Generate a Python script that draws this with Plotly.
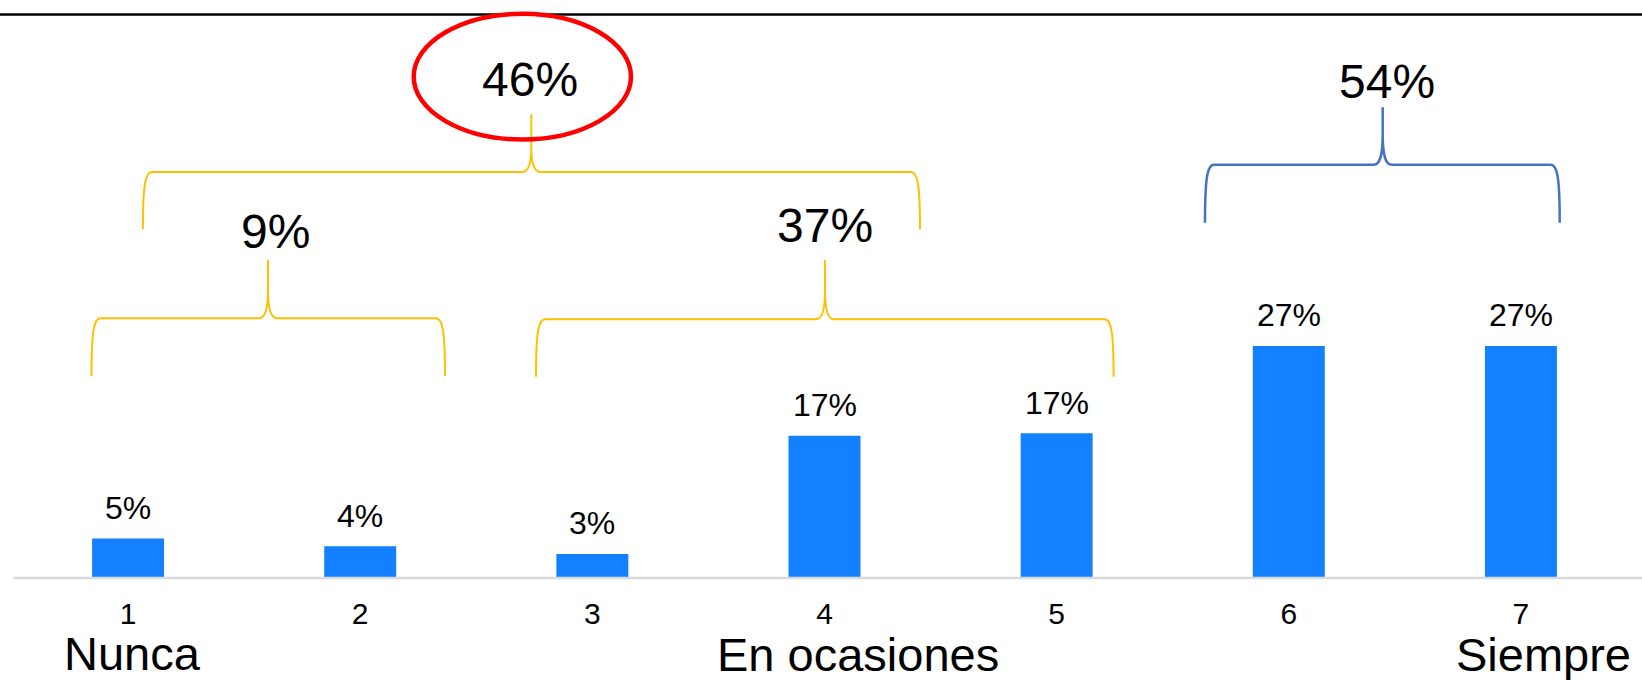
import plotly.graph_objects as go

# ---------------- data ----------------
categories = [1, 2, 3, 4, 5, 6, 7]
tick_labels = ["1", "2", "3", "4", "5", "6", "7"]
values = [4.5, 3.6, 2.7, 16.5, 16.8, 27.0, 27.0]
value_labels = ["5%", "4%", "3%", "17%", "17%", "27%", "27%"]
scale_labels = ["Nunca", "En ocasiones", "Siempre"]
group_labels = ["9%", "37%", "46%", "54%"]

# ---------------- layout geometry ----------------
W, H = 1642, 680
L, R, T, B = 12, 5, 0, 103
PW = W - L - R
PH = H - T - B
FONT = "Liberation Sans, Arial, sans-serif"
YELLOW = "#FFC000"
BLUE = "#4472C4"


def px(xp):
    return (xp - L) / PW


def py(yp):
    return (PH + T - yp) / PH


def pt(xp, yp):
    return f"{px(xp):.5f},{py(yp):.5f}"


def brace_path(xl, xr, xt, yb, yh, ytop, tipdy):
    c = 9
    p = []
    p.append(f"M {pt(xl, yb)}")
    p.append(f"C {pt(xl, yh + 15)} {pt(xl + 2, yh)} {pt(xl + c, yh)}")
    p.append(f"L {pt(xt - c, yh)}")
    p.append(f"C {pt(xt - 3, yh)} {pt(xt, yh - 8)} {pt(xt, yh - tipdy)}")
    p.append(f"L {pt(xt, ytop)}")
    p.append(f"M {pt(xt, ytop)}")
    p.append(f"L {pt(xt, yh - tipdy)}")
    p.append(f"C {pt(xt, yh - 8)} {pt(xt + 3, yh)} {pt(xt + c, yh)}")
    p.append(f"L {pt(xr - c, yh)}")
    p.append(f"C {pt(xr - 2, yh)} {pt(xr, yh + 15)} {pt(xr, yb)}")
    return " ".join(p)


fig = go.Figure()
fig.add_trace(go.Bar(
    x=categories, y=values, width=0.31,
    marker=dict(color="#1380FF", line=dict(width=0)),
    hoverinfo="skip", showlegend=False,
))

shapes = []
# top black rule
shapes.append(dict(type="line", xref="paper", yref="paper",
                   x0=px(0), x1=px(W), y0=py(14.5), y1=py(14.5),
                   line=dict(color="#000000", width=2.5)))
# gray baseline
shapes.append(dict(type="line", xref="paper", yref="paper",
                   x0=px(13), x1=px(W), y0=py(578), y1=py(578),
                   line=dict(color="#D9D9D9", width=2.6)))
# braces
braces = [
    (91.5, 445.0, 268.0, 376.0, 318.3, 260.0, 28, YELLOW, 2),
    (536.0, 1113.6, 825.0, 376.7, 319.3, 260.0, 28, YELLOW, 2),
    (142.9, 920.0, 531.3, 229.3, 172.0, 114.3, 25, YELLOW, 2),
    (1205.0, 1559.7, 1382.7, 222.7, 164.7, 107.3, 31, BLUE, 2.5),
]
for xl, xr, xt, yb, yh, ytop, tdy, col, lw in braces:
    shapes.append(dict(type="path", xref="paper", yref="paper",
                       path=brace_path(xl, xr, xt, yb, yh, ytop, tdy),
                       line=dict(color=col, width=lw),
                       fillcolor="rgba(0,0,0,0)"))
# red ellipse
shapes.append(dict(type="circle", xref="paper", yref="paper",
                   x0=px(413.7), x1=px(631.0), y0=py(139.6), y1=py(13.8),
                   line=dict(color="#FF0000", width=4.5),
                   fillcolor="rgba(0,0,0,0)"))

annotations = []
# value labels above bars
for c, v, lab in zip(categories, values, value_labels):
    annotations.append(dict(x=c, y=v, xref="x", yref="y", text=lab,
                            showarrow=False, xanchor="center", yanchor="middle",
                            yshift=30.7, font=dict(family=FONT, size=32, color="#000000")))
# group percentages
group_pos = [(275.0, 231.7), (824.5, 225.0), (529.5, 79.2), (1387.0, 81.5)]
for lab, (gx, gy) in zip(group_labels, group_pos):
    annotations.append(dict(x=px(gx), y=py(gy), xref="paper", yref="paper", text=lab,
                            showarrow=False, xanchor="center", yanchor="middle",
                            font=dict(family=FONT, size=48, color="#000000")))
# scale end labels
scale_pos = [(132.0, 653.0), (857.7, 654.5), (1543.8, 654.5)]
for lab, (sx, sy) in zip(scale_labels, scale_pos):
    annotations.append(dict(x=px(sx), y=py(sy), xref="paper", yref="paper", text=lab,
                            showarrow=False, xanchor="center", yanchor="middle",
                            font=dict(family=FONT, size=47, color="#000000")))

fig.update_layout(
    width=W, height=H,
    margin=dict(l=L, r=R, t=T, b=B, pad=0),
    paper_bgcolor="white", plot_bgcolor="white",
    shapes=shapes, annotations=annotations,
    xaxis=dict(range=[0.5, 7.5], tickmode="array", tickvals=categories,
               ticktext=tick_labels, showgrid=False, zeroline=False,
               showline=False, ticks="", ticklabelstandoff=16,
               tickfont=dict(family=FONT, size=30, color="#000000"),
               fixedrange=True),
    yaxis=dict(range=[0, PH / (231.0 / 27.0)], visible=False, fixedrange=True),
    showlegend=False,
)

fig.write_html("out.html")
